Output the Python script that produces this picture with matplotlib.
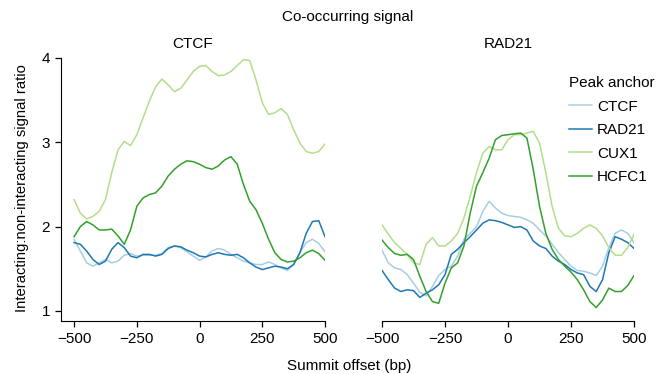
import numpy as np
import matplotlib
matplotlib.use("Agg")
import matplotlib.pyplot as plt

plt.rcParams["font.family"] = ["Liberation Sans", "DejaVu Sans"]
plt.rcParams["font.size"] = 11

# 横軸: サミットからのオフセット (bp)
offset = np.arange(-500, 501, 25)

anchors = ["CTCF", "RAD21", "CUX1", "HCFC1"]
colors = ["#a6cee3", "#1f78b4", "#b2df8a", "#33a02c"]

# 共起シグナル: CTCF
ctcf_ctcf = [1.85, 1.71, 1.57, 1.53, 1.57, 1.61, 1.57, 1.59, 1.66, 1.68, 1.65,
             1.66, 1.66, 1.66, 1.68, 1.75, 1.77, 1.75, 1.70, 1.65, 1.60, 1.64,
             1.71, 1.74, 1.72, 1.67, 1.63, 1.59, 1.57, 1.55, 1.55, 1.58, 1.55,
             1.51, 1.48, 1.55, 1.69, 1.81, 1.85, 1.80, 1.70]
ctcf_rad21 = [1.81, 1.79, 1.71, 1.61, 1.55, 1.59, 1.73, 1.81, 1.75, 1.65, 1.63,
              1.67, 1.67, 1.65, 1.67, 1.74, 1.77, 1.76, 1.72, 1.69, 1.65, 1.64,
              1.67, 1.69, 1.67, 1.66, 1.67, 1.63, 1.57, 1.52, 1.49, 1.51, 1.53,
              1.52, 1.50, 1.55, 1.69, 1.92, 2.06, 2.07, 1.88]
ctcf_cux1 = [2.32, 2.16, 2.09, 2.12, 2.18, 2.32, 2.64, 2.91, 3.01, 2.96, 3.09,
             3.29, 3.49, 3.66, 3.75, 3.68, 3.60, 3.64, 3.74, 3.84, 3.90, 3.91,
             3.84, 3.79, 3.80, 3.84, 3.91, 3.98, 3.97, 3.74, 3.47, 3.33, 3.35,
             3.40, 3.33, 3.15, 2.99, 2.89, 2.87, 2.89, 2.98]
ctcf_hcfc1 = [1.88, 2.00, 2.06, 2.02, 1.96, 1.96, 1.97, 1.89, 1.79, 1.96, 2.24,
              2.34, 2.38, 2.40, 2.48, 2.60, 2.68, 2.74, 2.78, 2.77, 2.74, 2.70,
              2.68, 2.72, 2.79, 2.83, 2.74, 2.50, 2.30, 2.20, 2.04, 1.85, 1.69,
              1.61, 1.58, 1.59, 1.63, 1.69, 1.72, 1.68, 1.60]

# 共起シグナル: RAD21
rad21_ctcf = [1.72, 1.57, 1.51, 1.49, 1.43, 1.33, 1.22, 1.18, 1.29, 1.42, 1.49,
              1.53, 1.65, 1.85, 1.92, 2.00, 2.18, 2.30, 2.22, 2.16, 2.13, 2.12,
              2.11, 2.08, 2.04, 1.96, 1.89, 1.79, 1.69, 1.61, 1.53, 1.48, 1.47,
              1.45, 1.42, 1.53, 1.75, 1.92, 1.96, 1.92, 1.81]
rad21_rad21 = [1.48, 1.37, 1.27, 1.23, 1.25, 1.24, 1.16, 1.21, 1.25, 1.31, 1.43,
               1.67, 1.73, 1.81, 1.88, 1.96, 2.04, 2.08, 2.07, 2.05, 2.02, 1.99,
               2.00, 1.96, 1.83, 1.77, 1.74, 1.65, 1.59, 1.55, 1.49, 1.45, 1.43,
               1.29, 1.23, 1.37, 1.69, 1.88, 1.85, 1.81, 1.74]
rad21_cux1 = [2.02, 1.91, 1.81, 1.74, 1.67, 1.57, 1.55, 1.79, 1.87, 1.77, 1.77,
              1.83, 1.92, 2.10, 2.36, 2.64, 2.87, 2.95, 2.91, 2.91, 3.03, 3.09,
              3.09, 3.11, 3.13, 2.99, 2.64, 2.24, 1.98, 1.89, 1.88, 1.92, 1.98,
              2.02, 1.98, 1.89, 1.75, 1.66, 1.66, 1.75, 1.91]
rad21_hcfc1 = [1.84, 1.75, 1.68, 1.66, 1.67, 1.61, 1.41, 1.23, 1.11, 1.09, 1.33,
               1.51, 1.57, 1.77, 2.16, 2.48, 2.64, 2.81, 3.03, 3.08, 3.09, 3.10,
               3.11, 3.05, 2.68, 2.24, 1.92, 1.73, 1.61, 1.53, 1.46, 1.37, 1.25,
               1.11, 1.04, 1.13, 1.27, 1.23, 1.23, 1.30, 1.42]

panels = [
    ("CTCF", [ctcf_ctcf, ctcf_rad21, ctcf_cux1, ctcf_hcfc1]),
    ("RAD21", [rad21_ctcf, rad21_rad21, rad21_cux1, rad21_hcfc1]),
]

fig = plt.figure(figsize=(6.59, 3.74), dpi=100)
ax_l = fig.add_axes([0.0926, 0.1417, 0.4006, 0.7033])
ax_r = fig.add_axes([0.5797, 0.1417, 0.3824, 0.7033])

for ax, (title, series) in zip([ax_l, ax_r], panels):
    for name, col, vals in zip(anchors, colors, series):
        ax.plot(offset, vals, color=col, lw=1.1, label=name)
    ax.set_title(title, fontsize=11, pad=7)
    ax.set_xticks([-500, -250, 0, 250, 500])
    ax.set_xticklabels(["\u2212500", "\u2212250", "0", "250", "500"])
    ax.set_ylim(0.88, 4.0)
    for s in ["top", "right"]:
        ax.spines[s].set_visible(False)
    ax.tick_params(length=4, width=0.9, pad=4, labelsize=11)

ax_l.set_xlim(-552, 500)
ax_l.set_yticks([1, 2, 3, 4])

ax_r.set_xlim(-500, 500)
ax_r.spines["left"].set_visible(False)
ax_r.set_yticks([])

fig.text(0.527, 0.955, "Co-occurring signal", ha="center", va="center", fontsize=11)
fig.text(0.53, 0.022, "Summit offset (bp)", ha="center", va="center", fontsize=11)
fig.text(0.033, 0.497, "Interacting:non-interacting signal ratio", ha="center",
         va="center", rotation=90, fontsize=10.6)

handles, labels = ax_r.get_legend_handles_labels()
leg = fig.legend(handles, labels, title="Peak anchor", loc="upper left",
                 bbox_to_anchor=(0.864, 0.797), frameon=False, fontsize=11,
                 title_fontsize=11, handlelength=1.45, handletextpad=0.35,
                 labelspacing=0.62, borderaxespad=0, borderpad=0)
leg._legend_box.align = "left"
leg._legend_box.sep = 7

fig.savefig("out.png", dpi=100)
